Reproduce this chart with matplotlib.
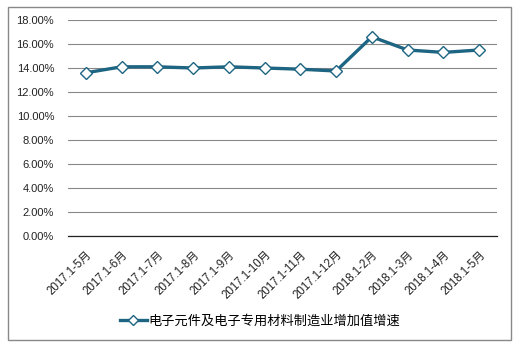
import matplotlib
matplotlib.use('Agg')
import matplotlib.pyplot as plt
from matplotlib.patches import Rectangle
from matplotlib.ticker import FuncFormatter

plt.rcParams['font.family'] = ['Liberation Sans', 'Noto Sans CJK SC', 'DejaVu Sans']

months = ['2017.1-5月', '2017.1-6月', '2017.1-7月', '2017.1-8月', '2017.1-9月',
          '2017.1-10月', '2017.1-11月', '2017.1-12月', '2018.1-2月', '2018.1-3月',
          '2018.1-4月', '2018.1-5月']
growth = [13.6, 14.1, 14.1, 14.0, 14.1, 14.0, 13.9, 13.75, 16.6, 15.5, 15.3, 15.5]
series_name = '电子元件及电子专用材料制造业增加值增速'

W, H = 519, 353
fig = plt.figure(figsize=(W / 100, H / 100), dpi=100)
ax = fig.add_axes([68 / W, 1 - 236 / H, (497 - 68) / W, (236 - 20) / H])

color = '#1D6582'
x = range(len(months))
ax.plot(x, growth, color=color, lw=2.4, marker='D', markersize=6.5,
        markerfacecolor='white', markeredgecolor=color, markeredgewidth=1.0,
        label=series_name)

ax.set_ylim(0, 18)
ax.set_xlim(-0.5, len(months) - 0.5)
ax.set_yticks(range(0, 19, 2))
ax.yaxis.set_major_formatter(FuncFormatter(lambda v, p: f'{v:.2f}%'))
ax.set_xticks(list(x))
ax.set_xticklabels(months, rotation=45, ha='right', rotation_mode='anchor')
ax.tick_params(axis='both', length=0, labelsize=8, colors='#222222')
ax.tick_params(axis='x', pad=9, labelsize=8.3)
ax.tick_params(axis='y', pad=10)
ax.grid(axis='y', color='#888888', lw=0.8)
ax.set_axisbelow(True)
for s in ['top', 'right', 'left']:
    ax.spines[s].set_visible(False)
ax.spines['bottom'].set_color('#222222')
ax.spines['bottom'].set_linewidth(0.9)

fig.legend(loc='center', bbox_to_anchor=(260 / W, 1 - 321 / H), frameon=False,
           fontsize=9.5, handlelength=2.0, handletextpad=0.1, markerscale=0.75)

fig.patches.append(Rectangle((8 / W, 1 - 340 / H), 503 / W, 333 / H,
                             transform=fig.transFigure, fill=False,
                             edgecolor='#888888', lw=1.0))

fig.savefig('out.png', dpi=100)
